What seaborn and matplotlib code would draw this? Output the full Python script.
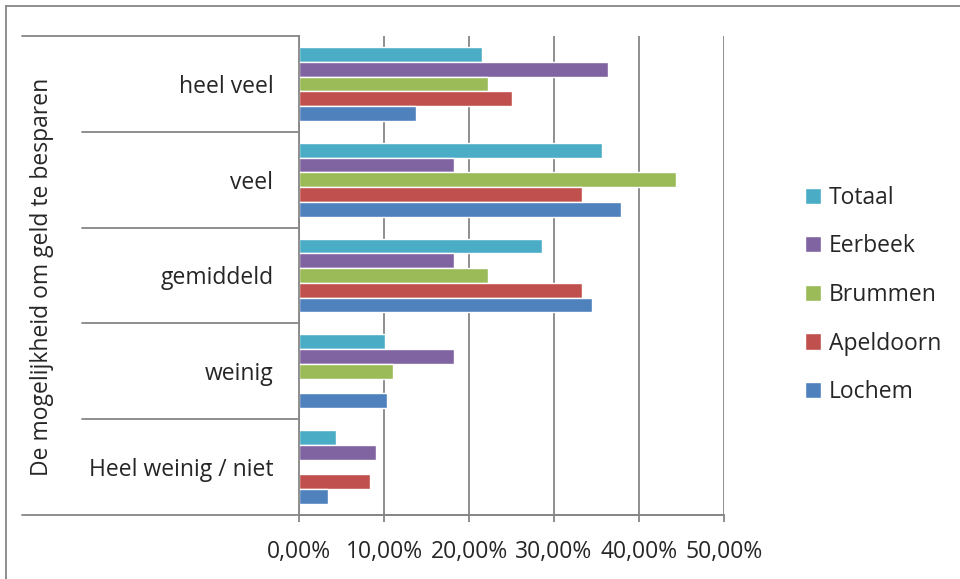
import matplotlib.pyplot as plt
import matplotlib.ticker as mticker
import matplotlib.transforms as mtransforms
from matplotlib.lines import Line2D
import seaborn as sns
import pandas as pd

# values (fractions)
categories = ['heel veel', 'veel', 'gemiddeld', 'weinig', 'Heel weinig / niet']
series = ['Totaal', 'Eerbeek', 'Brummen', 'Apeldoorn', 'Lochem']
totaal = [0.215, 0.357, 0.286, 0.101, 0.043]
eerbeek = [0.364, 0.182, 0.182, 0.182, 0.091]
brummen = [0.222, 0.444, 0.222, 0.111, 0.0]
apeldoorn = [0.250, 0.333, 0.333, 0.0, 0.083]
lochem = [0.138, 0.379, 0.345, 0.103, 0.034]
colors = ['#4BACC6', '#8064A2', '#9BBB59', '#C0504D', '#4F81BD']
xticks = [0, 0.1, 0.2, 0.3, 0.4, 0.5]

df = pd.DataFrame({
    'categorie': categories * 5,
    'reeks': [s for s in series for _ in categories],
    'waarde': totaal + eerbeek + brummen + apeldoorn + lochem,
})

sns.set_style('white')
plt.rcParams['font.family'] = ['Open Sans', 'DejaVu Sans']
FS = 16.5
GRAY = '#868686'

fig = plt.figure(figsize=(9.6, 5.79), dpi=100)
ax = fig.add_axes([299 / 960, 1 - 515 / 579, 425 / 960, 479 / 579])

sns.barplot(data=df, y='categorie', x='waarde', hue='reeks', order=categories,
            hue_order=series, palette=colors, orient='h', width=0.77,
            saturation=1, errorbar=None, ax=ax)

ax.set_xlim(0, 0.5)
ax.set_ylim(4.5, -0.5)
ax.set_xticks(xticks)
ax.xaxis.set_major_formatter(mticker.FuncFormatter(
    lambda v, p: f'{v * 100:.2f}%'.replace('.', ',')))
ax.set_xlabel('')
ax.set_ylabel('')
ax.grid(axis='x', color=GRAY, linewidth=1.3)
ax.grid(axis='y', visible=False)
ax.set_axisbelow(True)
for s in ['top', 'right']:
    ax.spines[s].set_visible(False)
for s in ['left', 'bottom']:
    ax.spines[s].set_color(GRAY)
    ax.spines[s].set_linewidth(1.3)
ax.tick_params(axis='x', direction='out', length=5, width=1.3, color=GRAY,
               pad=13, labelsize=FS, bottom=True)
ax.tick_params(axis='y', length=0, pad=18.5, labelsize=FS)

# category separator lines on the left (multi-level axis look)
trans = mtransforms.blended_transform_factory(ax.transAxes, ax.transData)
for i, yv in enumerate([-0.5, 0.5, 1.5, 2.5, 3.5, 4.5]):
    x0 = (22 - 299) / 425 if i in (0, 5) else (82 - 299) / 425
    x1 = 1.0 if i == 5 else 0.0
    ax.add_line(Line2D([x0, x1], [yv, yv], transform=trans, color=GRAY,
                       linewidth=1.3, clip_on=False))

fig.text(42 / 960, 1 - 277 / 579, 'De mogelijkheid om geld te besparen',
         rotation=90, ha='center', va='center', fontsize=FS)

sns.move_legend(ax, 'center left', bbox_to_anchor=(805 / 960, 1 - 295 / 579),
                bbox_transform=fig.transFigure, frameon=False, title=None,
                fontsize=FS, labelspacing=1.07, handlelength=0.7,
                handleheight=0.7, handletextpad=0.35, borderpad=0,
                borderaxespad=0)

# outer chart border (left and top visible in the reference)
fig.add_artist(Line2D([6 / 960, 6 / 960], [0, 1 - 6 / 579], color=GRAY,
                      linewidth=1.3, transform=fig.transFigure))
fig.add_artist(Line2D([6 / 960, 1], [1 - 6 / 579, 1 - 6 / 579], color=GRAY,
                      linewidth=1.3, transform=fig.transFigure))

fig.savefig('out.png', dpi=100)
plt.close(fig)
